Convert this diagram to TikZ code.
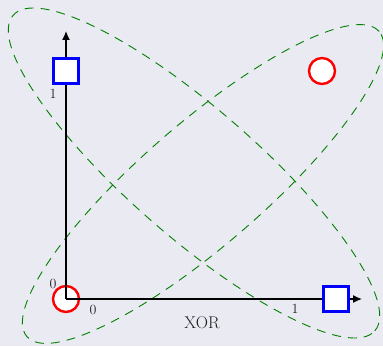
\documentclass[tikz,border=0pt]{standalone}
\usepackage{tikz}
\usetikzlibrary{arrows.meta}
\definecolor{bgc}{RGB}{234,234,242}
\definecolor{dgreen}{RGB}{0,128,0}
\definecolor{lblc}{RGB}{30,30,30}
\tikzset{
  axisline/.style={line width=1.3pt, -{Latex[length=9pt,width=8pt]}},
  ringmark/.style={circle, draw=red, fill=white, line width=2.4pt, minimum size=26pt, inner sep=0pt},
  boxmark/.style={rectangle, draw=blue, fill=white, line width=2.4pt, minimum size=25pt, inner sep=0pt},
  ticklbl/.style={text=lblc, font=\fontsize{14}{16}\selectfont, inner sep=0pt},
  loopline/.style={draw=dgreen, line width=0.9pt, dash pattern=on 9pt off 7pt}
}
\begin{document}
\begin{tikzpicture}[x=1pt,y=1pt]
\fill[bgc] (0,0) rectangle (383,346);
\useasboundingbox (0,0) rectangle (383,346);
% ellipses
\draw[loopline, rotate around={-41.1:(194,173)}] (194,173) ellipse (240 and 64);
\draw[loopline, rotate around={40.9:(203,162)}] (203,162) ellipse (233 and 61);
% circle markers (below the axes)
\node[ringmark] (c00) at (66,47) {};
\node[ringmark] (c11) at (322,275) {};
% axes
\coordinate (O) at (66,47);
\coordinate (xend) at (362,47);
\coordinate (yend) at (66,315);
\draw[axisline] (O) -- (xend);
\draw[axisline] (O) -- (yend);
% square markers (above the axes)
\node[boxmark] (s10) at (336,47) {};
\node[boxmark] (s01) at (66,275) {};
% labels
\node[ticklbl] (ly0) at (53,62) {0};
\node[ticklbl] (lx0) at (93,36) {0};
\node[ticklbl] (lx1) at (295,37) {1};
\node[ticklbl] (ly1) at (53,252) {1};
\node[text=lblc, font=\fontsize{17}{19}\selectfont, inner sep=0pt] (xlab) at (202,23) {XOR};
\end{tikzpicture}
\end{document}
